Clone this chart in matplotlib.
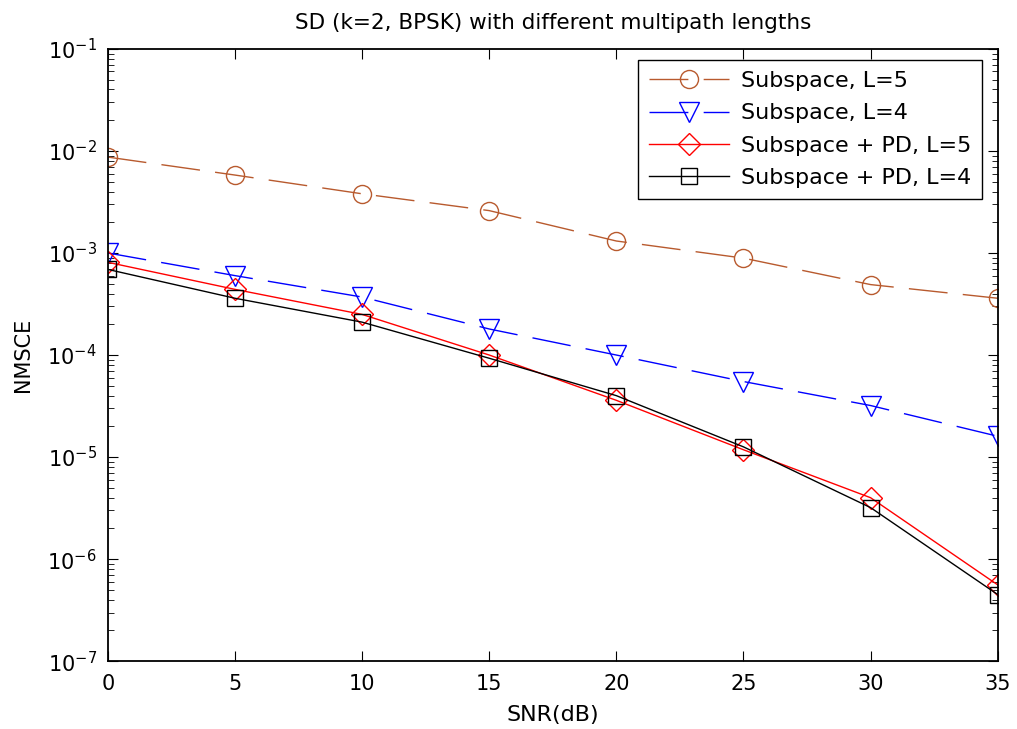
import numpy as np
import matplotlib
matplotlib.use('Agg')
import matplotlib.pyplot as plt
from matplotlib.ticker import FixedLocator, NullFormatter

plt.rcParams['font.family'] = ['DejaVu Sans']
plt.rcParams['lines.scale_dashes'] = False

snr = [0, 5, 10, 15, 20, 25, 30, 35]
sub_l5 = [8.7e-3, 5.8e-3, 3.8e-3, 2.6e-3, 1.31e-3, 8.9e-4, 4.9e-4, 3.6e-4]
sub_l4 = [1.0e-3, 6.0e-4, 3.7e-4, 1.8e-4, 1.0e-4, 5.5e-5, 3.2e-5, 1.6e-5]
pd_l5 = [8.1e-4, 4.4e-4, 2.5e-4, 1.0e-4, 3.6e-5, 1.18e-5, 4.0e-6, 5.6e-7]
pd_l4 = [6.9e-4, 3.6e-4, 2.1e-4, 9.3e-5, 4.0e-5, 1.26e-5, 3.2e-6, 4.5e-7]

labels = ['Subspace, L=5', 'Subspace, L=4', 'Subspace + PD, L=5', 'Subspace + PD, L=4']
decades = [-7, -6, -5, -4, -3, -2, -1]

fig = plt.figure(figsize=(10.17, 7.29), dpi=100)
ax = fig.add_axes([0.106, 0.093, 0.875, 0.840])

ax.semilogy(snr, sub_l5, color='#b85a2e', marker='o', mfc='none', ms=13, lw=1.0,
            dashes=(28, 11), label=labels[0])
ax.semilogy(snr, sub_l4, color='#0000ff', marker='v', mfc='none', ms=14, lw=1.0,
            dashes=(28, 11), label=labels[1])
ax.semilogy(snr, pd_l5, color='#ff0000', marker='D', mfc='none', ms=11, lw=1.0,
            label=labels[2])
ax.semilogy(snr, pd_l4, color='black', marker='s', mfc='none', ms=12, lw=1.0,
            label=labels[3])

ax.set_xlim(0, 35)
ax.set_ylim(1e-7, 1e-1)
ax.set_xticks(snr)
major = [10.0 ** d for d in decades]
minor = [m * 10.0 ** d for d in decades[:-1] for m in range(2, 10)]
ax.yaxis.set_major_locator(FixedLocator(major))
ax.yaxis.set_minor_locator(FixedLocator(minor))
ax.yaxis.set_minor_formatter(NullFormatter())
ax.tick_params(which='both', direction='in', top=True, right=True, labelsize=15)
ax.tick_params(axis='x', pad=9)
ax.tick_params(axis='y', pad=8)
ax.tick_params(which='major', length=7)
ax.tick_params(which='minor', length=4)
for s in ax.spines.values():
    s.set_linewidth(1.3)

ax.set_xlabel('SNR(dB)', fontsize=16, labelpad=8)
ax.set_ylabel('NMSCE', fontsize=15, labelpad=10)
ax.set_title('SD (k=2, BPSK) with different multipath lengths', fontsize=15.5, pad=14)

leg = ax.legend(loc='upper right', bbox_to_anchor=(0.9656, 0.9177),
                bbox_transform=fig.transFigure, borderaxespad=0,
                fontsize=16, handlelength=3.6, handletextpad=0.5, labelspacing=0.55,
                borderpad=0.5, fancybox=False, edgecolor='black', framealpha=1)
leg.get_frame().set_linewidth(1.0)

fig.savefig('out.png', dpi=100)
